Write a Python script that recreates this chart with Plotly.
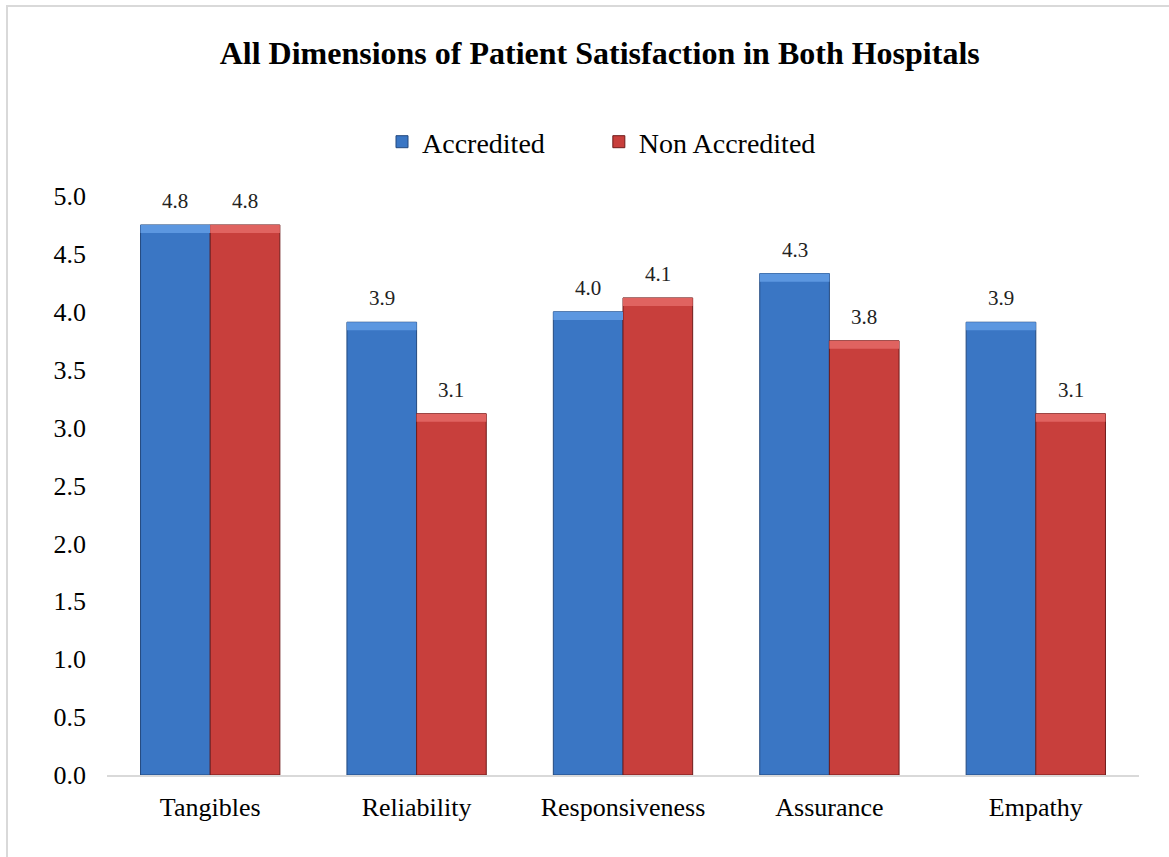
import plotly.graph_objects as go

categories = ["Tangibles", "Reliability", "Responsiveness", "Assurance", "Empathy"]
accredited = [4.75, 3.91, 4.00, 4.33, 3.91]
non_accredited = [4.75, 3.12, 4.12, 3.75, 3.12]
series_names = ["Accredited", "Non Accredited"]
y_ticks = [0.0, 0.5, 1.0, 1.5, 2.0, 2.5, 3.0, 3.5, 4.0, 4.5, 5.0]

W, H = 1169, 857
ML, MR, MT, MB = 107, 30, 196, 82
BARGAP = 0.325
FONT = "Liberation Serif, Times New Roman, serif"

colors = ["#3A76C4", "#C83F3C"]
tops = ["#5C97E0", "#E06360"]
edges = ["#23497E", "#6E1B1A"]
legend_pad = ["\u00a0" * 7, ""]

fig = go.Figure()
for name, pad, vals, c, e, i in zip(series_names, legend_pad, [accredited, non_accredited], colors, edges, range(2)):
    fig.add_trace(go.Bar(
        name=name + pad, x=categories, y=vals, offsetgroup=str(i),
        marker=dict(color=c, line=dict(color=e, width=1)),
        hovertemplate=name + ": %{y:.2f}<extra></extra>",
    ))

# bevel-like lighter top faces, drawn from the same data
for vals, t, i in zip([accredited, non_accredited], tops, range(2)):
    fig.add_trace(go.Bar(
        x=categories, y=[0.07] * len(vals), base=[v - 0.07 for v in vals],
        offsetgroup=str(i), showlegend=False, hoverinfo="skip",
        marker=dict(color=t, line=dict(width=0)),
    ))

# value labels above bars
plot_w = W - ML - MR
bar_w = plot_w / len(categories) * (1 - BARGAP) / 2
for vals, sgn in zip([accredited, non_accredited], [-1, 1]):
    for cat, v in zip(categories, vals):
        fig.add_annotation(
            x=cat, y=v, xref="x", yref="y", text=f"{v:.1f}", showarrow=False,
            xshift=sgn * bar_w / 2, yshift=10, yanchor="bottom",
            font=dict(family=FONT, size=21, color="#222222"),
        )

fig.update_layout(
    width=W, height=H,
    margin=dict(l=ML, r=MR, t=MT, b=MB),
    paper_bgcolor="white", plot_bgcolor="white",
    barmode="group", bargap=BARGAP, bargroupgap=0,
    font=dict(family=FONT, size=26, color="#000000"),
    title=dict(
        text="<b>All Dimensions of Patient Satisfaction in Both Hospitals</b>",
        x=0.513, xanchor="center", y=1 - 53 / H, yanchor="middle",
        font=dict(family=FONT, size=32, color="#000000"),
    ),
    legend=dict(
        orientation="h", x=(382 - ML) / plot_w, xanchor="left",
        y=(H - MB - 142) / (H - MT - MB), yanchor="middle",
        font=dict(family=FONT, size=28, color="#000000"),
        itemwidth=30, traceorder="normal",
    ),
    showlegend=True,
    xaxis=dict(
        showline=True, linecolor="#D9D9D9", linewidth=2,
        showgrid=False, ticks="", ticklabelstandoff=8,
        tickfont=dict(family=FONT, size=26, color="#000000"),
    ),
    yaxis=dict(
        range=[0, 5.0], tickvals=y_ticks, tickformat=".1f",
        showline=False, showgrid=False, zeroline=False, ticks="",
        ticklabelstandoff=20,
        tickfont=dict(family=FONT, size=26, color="#000000"),
    ),
    shapes=[dict(
        type="rect", xref="paper", yref="paper",
        x0=(7 - ML) / plot_w, x1=1.2, y0=-0.5,
        y1=(H - MB - 6) / (H - MT - MB),
        line=dict(color="#D9D9D9", width=2), fillcolor="rgba(0,0,0,0)",
        layer="below",
    )],
)

fig.write_html("out.html", config={"displayModeBar": False},
               post_script="document.body.style.margin='0';")
